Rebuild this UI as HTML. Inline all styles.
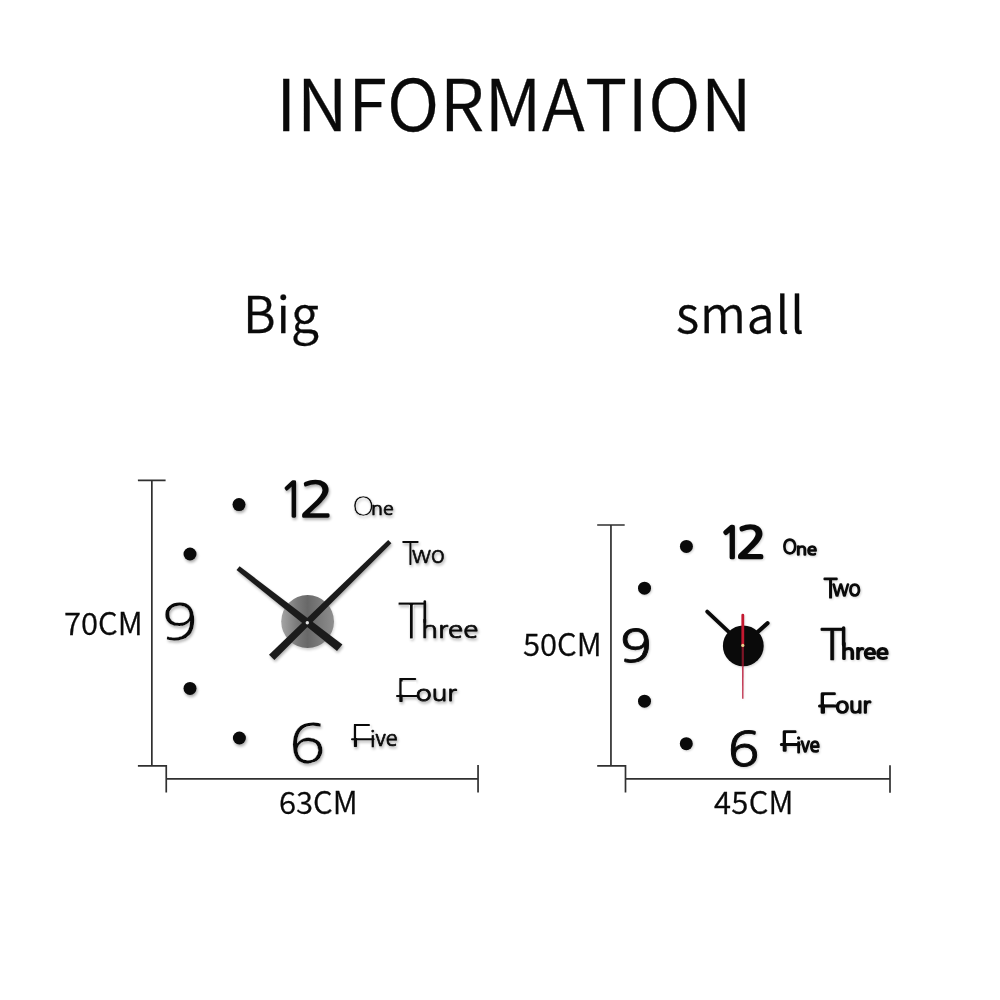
<!DOCTYPE html>
<html lang="en">
<head>
<meta charset="utf-8">
<title>INFORMATION</title>
<style>
html,body{margin:0;padding:0;background:#fff;}
body{width:1000px;height:1000px;position:relative;overflow:hidden;
  font-family:"Noto Sans CJK SC","Liberation Sans",sans-serif;color:#0a0a0a;}
.t{position:absolute;white-space:nowrap;line-height:1;margin:0;font-weight:350;font-kerning:none;-webkit-text-stroke:0.3px #0a0a0a;will-change:transform;}
#title{left:276.4px;top:65px;font-size:71px;letter-spacing:0.32px;font-kerning:none;}
#big{left:243px;top:286px;font-size:50px;letter-spacing:1px;}
#small{left:676px;top:286px;font-size:50px;letter-spacing:0.8px;}
.dim{font-size:31px;}
#d70{left:64.2px;top:605.5px;}
#d63{left:278.5px;top:785px;}
#d50{left:522.5px;top:627px;}
#d45{left:713.8px;top:785px;letter-spacing:0.3px;}
svg{position:absolute;left:0;top:0;}
svg text{font-family:"NanumGothic","Liberation Sans",sans-serif;}
</style>
</head>
<body>
<h1 class="t" id="title">INFORMATION</h1>
<div class="t" id="big">Big</div>
<div class="t" id="small">small</div>
<div class="t dim" id="d70">70CM</div>
<div class="t dim" id="d63">63CM</div>
<div class="t dim" id="d50">50CM</div>
<div class="t dim" id="d45">45CM</div>
<svg width="1000" height="1000" viewBox="0 0 1000 1000">
<defs>
  <filter id="soft" x="-5%" y="-5%" width="110%" height="110%" color-interpolation-filters="sRGB"><feColorMatrix in="SourceGraphic" type="matrix" values="0 0 0 0 0  0 0 0 0 0  0 0 0 0 0  -0.334 -0.333 -0.333 1 0" result="dk"/><feGaussianBlur in="dk" stdDeviation="1.4" result="b"/><feOffset in="b" dx="1.4" dy="2.1" result="o"/><feComponentTransfer in="o" result="sh"><feFuncA type="linear" slope="0.36"/></feComponentTransfer><feGaussianBlur in="SourceGraphic" stdDeviation="0.3" result="g"/><feMerge><feMergeNode in="sh"/><feMergeNode in="g"/></feMerge></filter>
  <filter id="soft2" x="-5%" y="-5%" width="110%" height="110%" color-interpolation-filters="sRGB"><feColorMatrix in="SourceGraphic" type="matrix" values="0 0 0 0 0  0 0 0 0 0  0 0 0 0 0  -0.334 -0.333 -0.333 1 0" result="dk"/><feGaussianBlur in="dk" stdDeviation="1" result="b"/><feOffset in="b" dx="0.6" dy="1" result="o"/><feComponentTransfer in="o" result="sh"><feFuncA type="linear" slope="0.2"/></feComponentTransfer><feGaussianBlur in="SourceGraphic" stdDeviation="0.5" result="g"/><feMerge><feMergeNode in="sh"/><feMergeNode in="g"/></feMerge></filter>
  <linearGradient id="hub" x1="0" y1="0" x2="1" y2="0">
    <stop offset="0" stop-color="#a4a4a4"/><stop offset="0.3" stop-color="#7a7a7a"/><stop offset="0.5" stop-color="#686868"/><stop offset="0.75" stop-color="#7c7c7c"/><stop offset="1" stop-color="#8e8e8e"/>
  </linearGradient>
</defs>
<g id="dims" stroke="#303030" stroke-width="1.7" fill="none">
  <path d="M137.9 480.45H165.6M151.85 480.45V765.9M137.9 765.9H166.25M166.25 765.05V792.6M166.25 778.95H478.05M478.05 765.1V792.6"/>
  <path d="M597.2 525H624.7M610.95 525V765.9M597.2 765.9H625.5M625.5 765.05V792.6M625.5 778.95H890M890 765.3V792.7"/>
</g>
<g id="bigclock" fill="#0a0a0a" filter="url(#soft)" stroke-linejoin="round">
  <g id="bdots">
    <circle cx="239" cy="504.6" r="6.5"/><circle cx="190" cy="554" r="6.5"/><circle cx="190" cy="688.4" r="6.5"/><circle cx="239.4" cy="738" r="6.5"/>
  </g>
  <text id="b12"><tspan id="b1" x="279.1" y="516.9" font-size="48.6" textLength="26.9" lengthAdjust="spacingAndGlyphs" stroke="#0a0a0a" stroke-width="1.60">1</tspan><tspan id="b2" x="299.4" y="516.9" font-size="48.6" textLength="34.5" lengthAdjust="spacingAndGlyphs" stroke="#0a0a0a" stroke-width="1.60">2</tspan></text>
  <text id="b9t"><tspan id="b9" x="161.5" y="640.3" font-size="51.2" textLength="36.4" lengthAdjust="spacingAndGlyphs" stroke="#fff" stroke-width="0.20">9</tspan></text>
  <text id="b6t"><tspan id="b6" x="288.8" y="763.0" font-size="53.6" textLength="37.1" lengthAdjust="spacingAndGlyphs" stroke="#fff" stroke-width="0.20">6</tspan></text>
  <text id="bone"><tspan id="boneO" x="352.0" y="515.7" font-size="27.6" textLength="22.4" lengthAdjust="spacingAndGlyphs" stroke="#fff" stroke-width="0.50">O</tspan><tspan id="bone2" x="371.1" y="514.7" font-size="17.7" textLength="22.6" lengthAdjust="spacingAndGlyphs" stroke="#0a0a0a" stroke-width="0.70">ne</tspan></text>
  <text id="btwo"><tspan id="btwoT" x="401.5" y="565.4" font-size="33.0" textLength="17.5" lengthAdjust="spacingAndGlyphs" stroke="#fff" stroke-width="0.20">T</tspan><tspan id="btwo2" x="411.9" y="563.1" font-size="23.0" textLength="32.6" lengthAdjust="spacingAndGlyphs" stroke="#0a0a0a" stroke-width="0.60">wo</tspan></text>
  <text id="bthree"><tspan id="bthreeT" x="397.1" y="639.0" font-size="50.2" textLength="28.2" lengthAdjust="spacingAndGlyphs" stroke="#fff" stroke-width="0.90">T</tspan><tspan id="bthree2" x="421.2" y="638.3" font-size="23.0" textLength="57.1" lengthAdjust="spacingAndGlyphs" stroke="#0a0a0a" stroke-width="0.70">hree</tspan></text>
  <text id="bfour"><tspan id="bfourF" x="395.3" y="702.4" font-size="31.6" textLength="22.5" lengthAdjust="spacingAndGlyphs">F</tspan><tspan id="bfour2" x="415.8" y="701.0" font-size="21.0" textLength="40.9" lengthAdjust="spacingAndGlyphs" stroke="#0a0a0a" stroke-width="0.80">our</tspan></text>
  <text id="bfive"><tspan id="bfiveF" x="350.0" y="746.6" font-size="31.1" textLength="21.4" lengthAdjust="spacingAndGlyphs">F</tspan><tspan id="bfive2" x="369.9" y="746.2" font-size="21.5" textLength="27.7" lengthAdjust="spacingAndGlyphs" stroke="#0a0a0a" stroke-width="0.70">ive</tspan></text>
  <path id="bcover" fill="#fff" d="M401.6 681.6H416.5V694.8H401.6ZM356.1 726H370.8V738.1H356.1Z"/>
  <g id="bbars" stroke="#0a0a0a" stroke-width="2" stroke-linecap="round" fill="none">
    <path stroke-width="2.6" d="M424.8 601.5V622"/><path d="M397 696H418.4M352 739.3H373.6"/>
  </g>
  <g id="bhands">
    <circle cx="307.6" cy="621.5" r="26.4" fill="url(#hub)"/>
    <polygon fill="#1b1b1b" points="236.5,570.1 239.6,566.3 342.4,644.4 337,651.1"/>
    <polygon fill="#1b1b1b" points="388.2,540 391.4,543.2 274.4,660.1 269,654.7"/>
    <circle cx="307.3" cy="622.7" r="1.7" fill="#e4e4e4"/>
  </g>
</g>
<g id="smallclock" fill="#0a0a0a" filter="url(#soft2)" stroke-linejoin="round">
  <g id="sdots">
    <circle cx="686.4" cy="546.4" r="6.5"/><circle cx="644.5" cy="588.2" r="6.5"/><circle cx="644.5" cy="701.2" r="6.5"/><circle cx="686.3" cy="743.7" r="6.5"/>
  </g>
  <text id="s12"><tspan id="s1" x="718.8" y="558.0" font-size="42.3" textLength="24.5" lengthAdjust="spacingAndGlyphs" stroke="#0a0a0a" stroke-width="2.70">1</tspan><tspan id="s2" x="736.5" y="558.0" font-size="42.3" textLength="29.9" lengthAdjust="spacingAndGlyphs" stroke="#0a0a0a" stroke-width="2.70">2</tspan></text>
  <text id="s9t"><tspan id="s9" x="619.9" y="661.7" font-size="44.0" textLength="31.7" lengthAdjust="spacingAndGlyphs" stroke="#0a0a0a" stroke-width="0.80">9</tspan></text>
  <text id="s6t"><tspan id="s6" x="727.7" y="766.2" font-size="47.0" textLength="31.8" lengthAdjust="spacingAndGlyphs" stroke="#0a0a0a" stroke-width="0.90">6</tspan></text>
  <text id="sone"><tspan id="soneO" x="782.4" y="554.3" font-size="20.1" textLength="14.5" lengthAdjust="spacingAndGlyphs" stroke="#0a0a0a" stroke-width="1.40">O</tspan><tspan id="sone2" x="796.1" y="554.5" font-size="16.0" textLength="20.9" lengthAdjust="spacingAndGlyphs" stroke="#0a0a0a" stroke-width="1.50">ne</tspan></text>
  <text id="stwo"><tspan id="stwoT" x="823.6" y="597.5" font-size="27.7" textLength="13.9" lengthAdjust="spacingAndGlyphs" stroke="#0a0a0a" stroke-width="1.20">T</tspan><tspan id="stwo2" x="832.4" y="596.0" font-size="21.0" textLength="28.2" lengthAdjust="spacingAndGlyphs" stroke="#0a0a0a" stroke-width="1.50">wo</tspan></text>
  <text id="sthree"><tspan id="sthreeT" x="819.9" y="659.8" font-size="42.4" textLength="24.1" lengthAdjust="spacingAndGlyphs" stroke="#0a0a0a" stroke-width="0.50">T</tspan><tspan id="sthree2" x="840.9" y="659.4" font-size="20.5" textLength="47.8" lengthAdjust="spacingAndGlyphs" stroke="#0a0a0a" stroke-width="1.80">hree</tspan></text>
  <text id="sfour"><tspan id="sfourF" x="818.3" y="713.0" font-size="27.2" textLength="18.0" lengthAdjust="spacingAndGlyphs" stroke="#0a0a0a" stroke-width="1.30">F</tspan><tspan id="sfour2" x="835.5" y="712.7" font-size="21.0" textLength="35.2" lengthAdjust="spacingAndGlyphs" stroke="#0a0a0a" stroke-width="1.60">our</tspan></text>
  <text id="sfive"><tspan id="sfiveF" x="780.6" y="751.3" font-size="27.7" textLength="16.4" lengthAdjust="spacingAndGlyphs" stroke="#0a0a0a" stroke-width="1.30">F</tspan><tspan id="sfive2" x="796.3" y="752.1" font-size="20.2" textLength="23.4" lengthAdjust="spacingAndGlyphs" stroke="#0a0a0a" stroke-width="1.60">ive</tspan></text>
  <path id="scover" fill="#fff" d="M824 695.4H835.6V704.5H824ZM786 733.2H796.8V742.9H786Z"/>
  <g id="sbars" stroke="#0a0a0a" stroke-width="3" stroke-linecap="round" fill="none">
    <path stroke-width="3.5" d="M843.6 628V645"/><path d="M819.5 706H837M781.3 744.4H799.2"/>
  </g>
  <g id="shands">
    <line x1="742.8" y1="645.2" x2="707.2" y2="611.6" stroke="#0a0a0a" stroke-width="3.9" stroke-linecap="round"/>
    <line x1="742.8" y1="645.2" x2="767.5" y2="623.2" stroke="#0a0a0a" stroke-width="4.2" stroke-linecap="round"/>
    <circle cx="743.3" cy="645.9" r="20.4"/>
    <path fill="#c41830" d="M741.4 615.1a1.4 1.4 0 0 1 2.8 0V645.4H741.4Z"/><path fill="#7c1526" d="M741.7 645.4H743.9V666.4H741.7Z"/><path fill="#c4405a" d="M741.95 666.2H743.65L743.5 698.8H742.1Z"/>
    <circle cx="742.8" cy="645.4" r="1.6" fill="#ecd08e"/>
  </g>
</g>
</svg>
</body>
</html>
